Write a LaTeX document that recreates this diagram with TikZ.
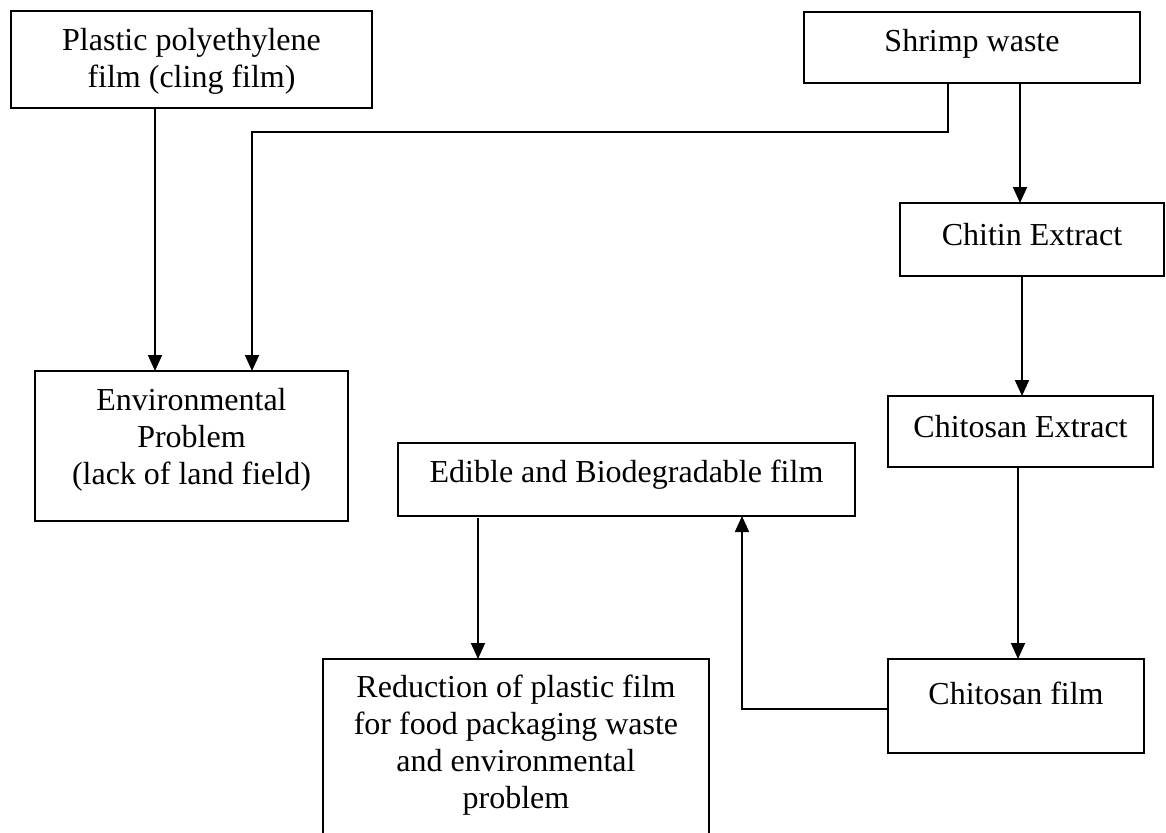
\documentclass[tikz,border=0pt]{standalone}
\usepackage{fontspec}
\setmainfont{Liberation Serif}
\usetikzlibrary{arrows.meta}
\begin{document}
\begin{tikzpicture}[x=1pt,y=-1pt,
  box/.style={draw, line width=1.8pt, outer sep=0pt, inner sep=0pt, fill=none},
  txt/.style={font=\fontsize{32}{37}\selectfont, align=center, inner sep=0pt},
  arr/.style={line width=1.8pt, -{Triangle[length=16pt,width=14pt]}},
  ln/.style={line width=1.8pt}]
\useasboundingbox (0,0) rectangle (1166,832);
% boxes
\node[box, minimum width=361pt, minimum height=97pt] (plastic) at (191.5,59.5) {};
\node[box, minimum width=336pt, minimum height=71pt] (shrimp) at (972,47.5) {};
\node[box, minimum width=264pt, minimum height=73pt] (chitin) at (1032,239.5) {};
\node[box, minimum width=265pt, minimum height=71pt] (chext) at (1020.5,431.5) {};
\node[box, minimum width=256pt, minimum height=94pt] (film) at (1016,706) {};
\node[box, minimum width=313pt, minimum height=150pt] (env) at (191.5,446) {};
\node[box, minimum width=457pt, minimum height=73pt] (edible) at (626.5,479.5) {};
\node[box, minimum width=386pt, minimum height=191pt] (red) at (516,754.5) {};
% texts
\node[txt] (plasticT) at ([yshift=-2pt]plastic.center) {Plastic polyethylene\\film (cling film)};
\node[txt] (shrimpT) at ([yshift=4pt]shrimp.center) {Shrimp waste};
\node[txt] (chitinT) at ([yshift=5pt]chitin.center) {Chitin Extract};
\node[txt] (chextT) at ([yshift=5pt]chext.center) {Chitosan Extract};
\node[txt] (filmT) at ([yshift=13pt]film.center) {Chitosan film};
\node[txt] (envT) at ([yshift=6pt]env.center) {Environmental\\Problem\\(lack of land field)};
\node[txt] (edibleT) at ([yshift=5pt]edible.center) {Edible and Biodegradable film};
\node[txt] (redT) at (516,745.5) {Reduction of plastic film\\for food packaging waste\\and environmental\\problem};
% connectors
\draw[arr] ([xshift=-36.5pt]plastic.south) -- ([xshift=-36.5pt]env.north);
\draw[arr] ([xshift=-24pt]shrimp.south) -- ++(0,49) -| ([xshift=60.5pt]env.north);
\draw[arr] ([xshift=48pt]shrimp.south) -- ([xshift=48pt]shrimp.south |- chitin.north);
\draw[arr] ([xshift=-10pt]chitin.south) -- ([xshift=-10pt]chitin.south |- chext.north);
\draw[arr] ([xshift=-2.5pt]chext.south) -- ([xshift=-2.5pt]chext.south |- film.north);
\draw[arr] ([yshift=-3pt]film.west) -| ([xshift=115.5pt]edible.south);
\draw[arr] ([xshift=-148.5pt,yshift=-2pt]edible.south) -- ([xshift=-148.5pt]edible.south |- red.north);
\end{tikzpicture}
\end{document}
